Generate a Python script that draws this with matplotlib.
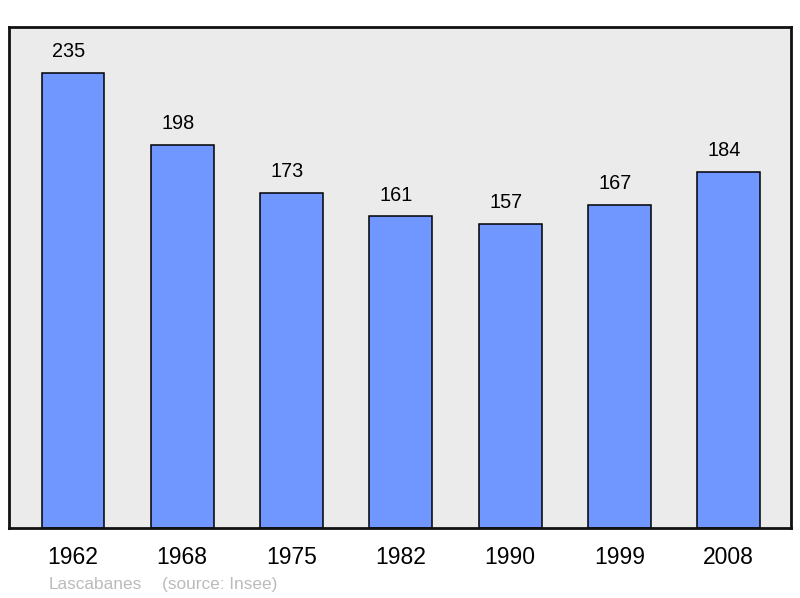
import matplotlib
matplotlib.use('Agg')
import matplotlib.pyplot as plt

years = ['1962', '1968', '1975', '1982', '1990', '1999', '2008']
population = [235, 198, 173, 161, 157, 167, 184]
commune = 'Lascabanes'
source = '(source: Insee)'

plt.rcParams['font.family'] = ['Liberation Sans', 'DejaVu Sans']

fig = plt.figure(figsize=(8, 5.98), dpi=100)
ax = fig.add_axes([9 / 800, 1 - 528 / 598, 782 / 800, 501 / 598])
ax.set_facecolor('#ebebeb')

x = range(len(years))
ax.bar(x, population, width=0.575, color='#7096ff', edgecolor='black', linewidth=1.1)
for i, v in zip(x, population):
    ax.annotate(str(v), (i, v), xytext=(-3, 8.5), textcoords='offset points',
                ha='center', va='bottom', fontsize=14.3)

ax.set_xlim(-0.585, 6.57)
ax.set_ylim(0, 258.8)
ax.set_xticks(list(x))
ax.set_xticklabels(years, fontsize=16.5)
ax.tick_params(axis='x', length=0, pad=13)
ax.set_yticks([])
for s in ax.spines.values():
    s.set_linewidth(2)
    s.set_color('#111111')

fig.text(49 / 800, 1 - 584.5 / 598, commune, color='#bbbbbb', fontsize=12.4, va='center')
fig.text(162 / 800, 1 - 584.5 / 598, source, color='#bbbbbb', fontsize=12.4, va='center')

fig.savefig('out.png', dpi=100)
